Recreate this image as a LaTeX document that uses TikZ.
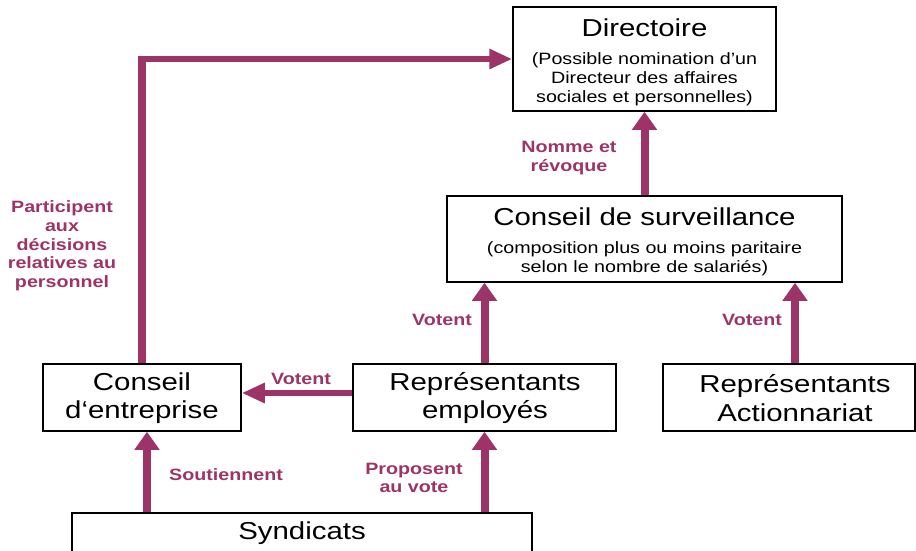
\documentclass[tikz,border=0pt]{standalone}
\usepackage{fontspec}
\setmainfont{Liberation Sans}[FakeStretch=1.2]
\usetikzlibrary{arrows.meta}
\definecolor{mag}{RGB}{157,52,103}
\begin{document}
\begin{tikzpicture}[x=1pt,y=-1pt,
 box/.style={draw=black,line width=1.5pt,inner sep=0pt,fill=white},
 title/.style={font=\fontsize{24.5}{28.5}\selectfont,align=center,inner sep=0pt},
 sub/.style={font=\fontsize{16.4}{19}\selectfont,align=center,inner sep=0pt},
 lab/.style={font=\fontsize{16.4}{18.7}\selectfont\bfseries,text=mag,align=center,inner sep=0pt},
 varrow/.style={draw=mag,line width=8pt,-{Triangle[width=24pt,length=18pt]}},
 harrow/.style={draw=mag,line width=6.5pt,-{Triangle[width=19pt,length=23pt]}},
 vline/.style={draw=mag,line width=8pt},
]
\useasboundingbox (0,0) rectangle (916,551);

% boxes
\node[box,minimum width=263pt,minimum height=104pt] (dir) at (644.5,59) {};
\node[box,minimum width=395pt,minimum height=86pt] (cs) at (644.5,239) {};
\node[box,minimum width=198pt,minimum height=67pt] (ce) at (142,397.5) {};
\node[box,minimum width=263pt,minimum height=67pt] (re) at (484.5,397.5) {};
\node[box,minimum width=252pt,minimum height=67pt] (ra) at (789,397.5) {};
\node[box,minimum width=460pt,minimum height=47pt] (syn) at (302,536.5) {};

% box texts
\node[title] (dirt) at (644.5,28) {Directoire};
\node[sub] (dirs) at (644.5,79) {(Possible nomination d’un\\Directeur des affaires\\sociales et personnelles)};
\node[title] (cst) at (644.5,217) {Conseil de surveillance};
\node[sub] (css) at (644.5,258.5) {(composition plus ou moins paritaire\\selon le nombre de salariés)};
\node[title] (cet) at (142,398) {Conseil\\d‘entreprise};
\node[title] (ret) at (485,398) {Représentants\\employés};
\node[title] (rat) at (795,398) {Représentants\\Actionnariat};
\node[title] (synt) at (302,533) {Syndicats};

% labels
\node[lab] (l1) at (569,158) {Nomme et\\révoque};
\node[lab] (l2) at (62,246) {Participent\\aux\\décisions\\relatives au\\personnel};
\node[lab] (l3) at (442,320) {Votent};
\node[lab] (l4) at (752,320) {Votent};
\node[lab] (l5) at (301,379) {Votent};
\node[lab] (l6) at (226,475) {Soutiennent};
\node[lab] (l7) at (414,478) {Proposent\\au vote};

% connectors
\coordinate (corner) at (142,59);
\draw[varrow] (cs.north) -- (dir.south);
\draw[varrow] (re.north) -- (re.north |- cs.south);
\draw[varrow] ([xshift=6pt]ra.north) -- ([xshift=6pt]ra.north |- cs.south);
\draw[harrow] ([yshift=4.5pt]re.west) -- ([yshift=4.5pt]ce.east);
\draw[varrow] ([xshift=5pt]ce.south |- syn.north) -- ([xshift=5pt]ce.south);
\draw[varrow] (re.south |- syn.north) -- (re.south);
\draw[vline] (ce.north) -- ([yshift=3.25pt]corner);
\draw[harrow] ([xshift=-4pt]corner) -- (dir.west);
\end{tikzpicture}
\end{document}
